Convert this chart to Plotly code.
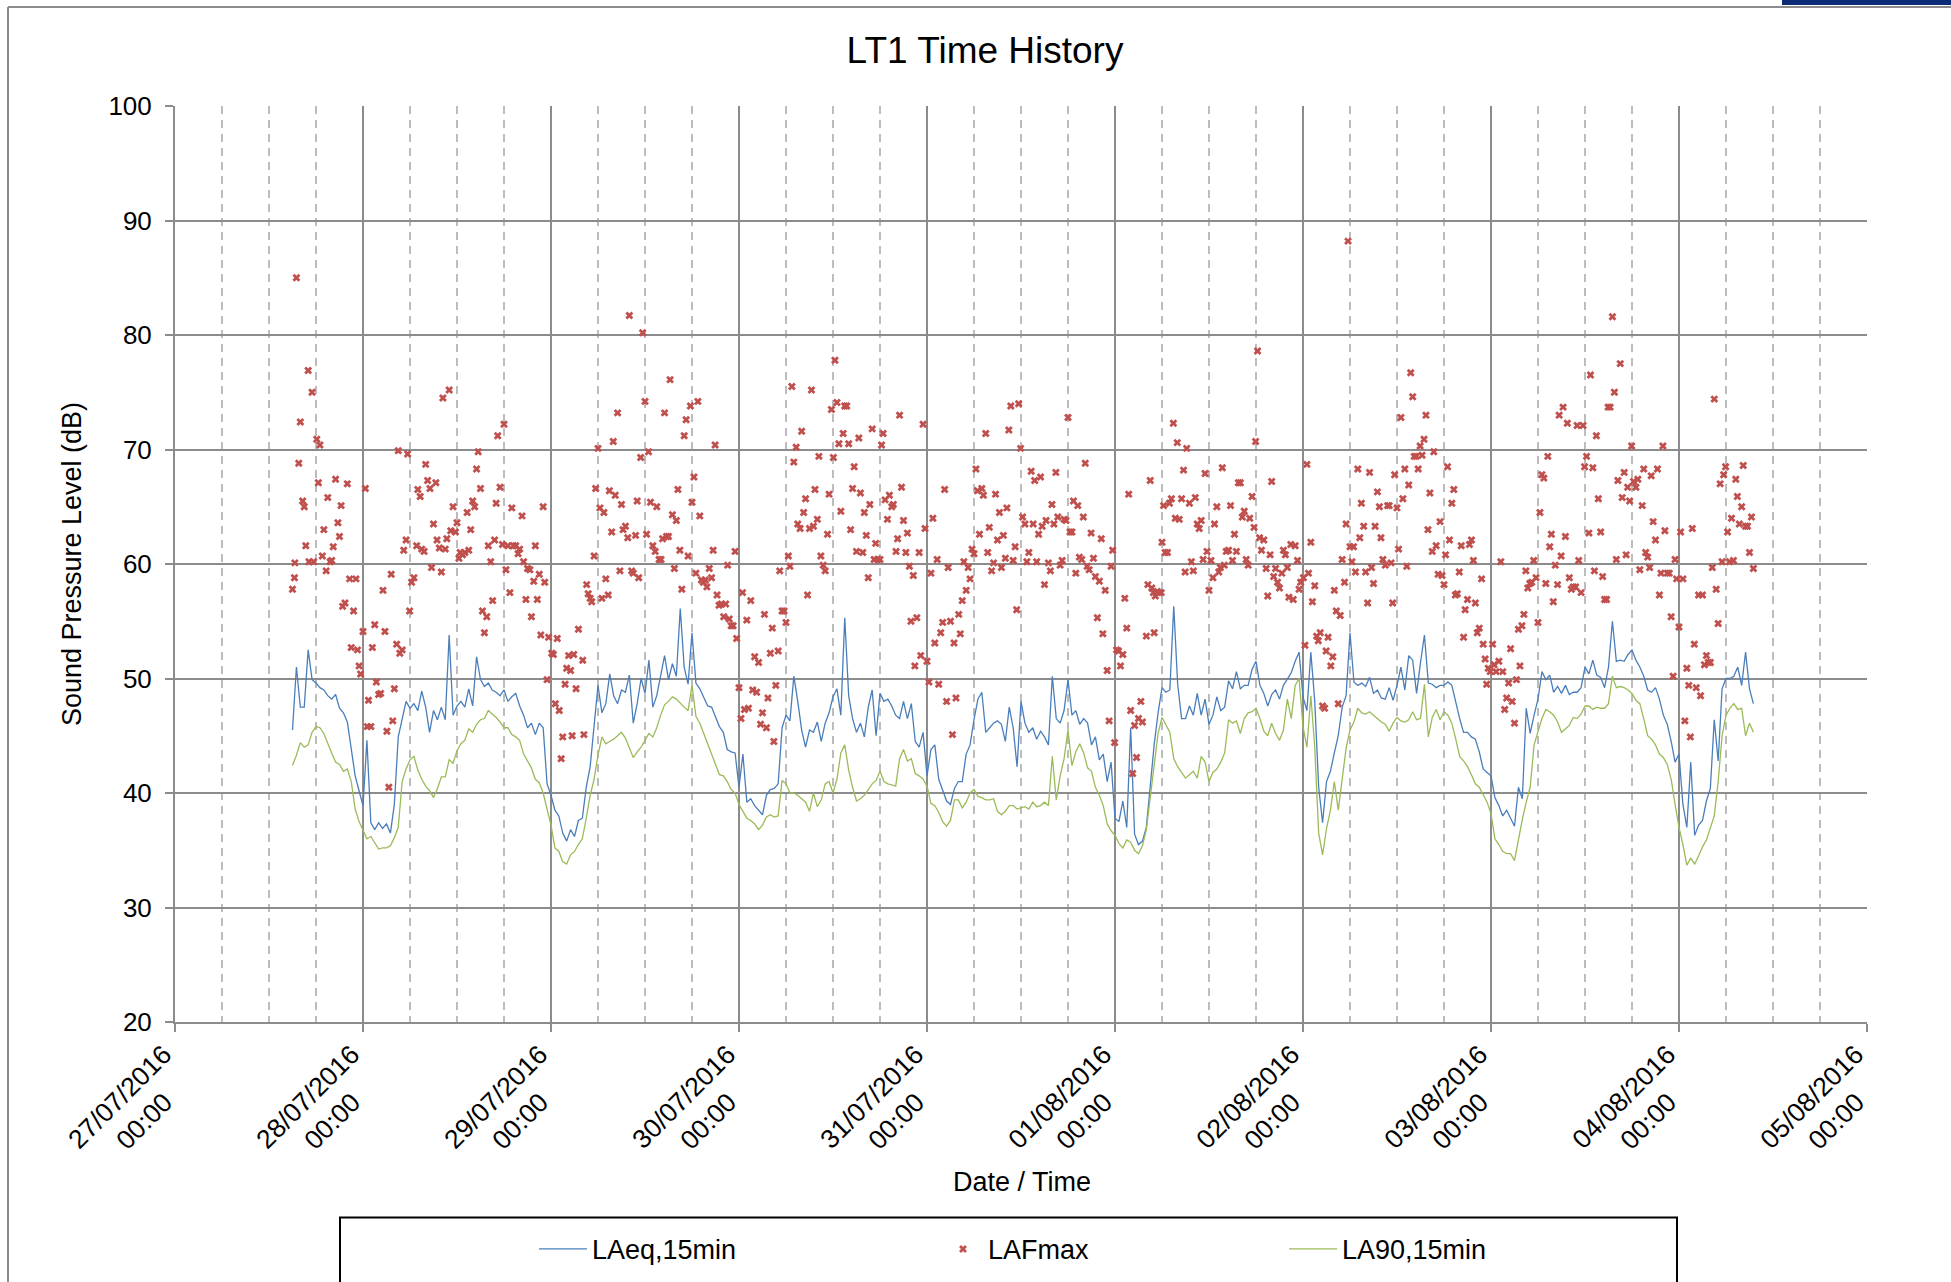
import numpy as np
import pandas as pd
import plotly.graph_objects as go

# ---------------- data ----------------
series_start = "2016-07-27 15:00"   # first 30-min sample
step_minutes = 30
day_labels = ["27/07/2016", "28/07/2016", "29/07/2016", "30/07/2016", "31/07/2016",
              "01/08/2016", "02/08/2016", "03/08/2016", "04/08/2016", "05/08/2016"]
time_label = "00:00"

laeq = [
    45.5, 51.0, 47.5, 47.5, 52.5, 49.9, 49.6, 49.2, 49.0, 48.5,
    48.2, 48.6, 47.4, 47.0, 46.2, 44.0, 41.5, 40.2, 38.9, 44.6,
    37.4, 36.8, 37.4, 36.9, 37.3, 36.5, 39.0, 44.9, 46.4, 48.0,
    47.4, 47.8, 47.2, 48.9, 47.5, 45.3, 47.2, 46.4, 47.5, 46.4,
    53.8, 46.8, 47.6, 48.0, 47.5, 49.1, 47.6, 51.9, 49.9, 49.3,
    49.6, 49.0, 48.8, 48.5, 49.0, 48.0, 48.4, 48.7, 47.6, 46.8,
    45.7, 46.1, 45.1, 46.1, 45.7, 40.8, 39.8, 38.5, 38.0, 36.5,
    35.8, 36.8, 36.2, 37.6,
    37.8, 40.5, 42.3, 46.0, 49.4, 47.0,
    47.8, 50.4, 48.5, 47.8, 49.0, 48.8, 50.3, 46.1, 47.8, 50.0,
    48.7, 51.6, 47.5, 48.5, 50.3, 52.0, 49.9, 51.3, 50.2, 56.1,
    51.0, 49.5, 54.0, 49.6, 49.1, 48.4, 47.6, 47.5, 46.6, 45.8,
    45.3, 43.8, 43.6, 43.5, 40.5, 43.4, 39.2, 39.5, 38.9, 38.5,
    38.1, 39.8, 40.3, 40.4, 40.8, 45.7, 46.8, 46.3, 50.2, 48.0,
    45.5, 44.0, 45.5, 45.3, 46.2, 44.5, 46.1, 47.0, 48.4, 49.1,
    46.8, 55.3, 48.5, 46.5, 45.3, 46.1, 44.9, 47.5, 49.0, 45.0,
    48.7, 48.0, 48.2, 47.6, 46.8, 46.5, 48.0, 46.5, 47.8, 44.5,
    44.0, 45.3, 41.5, 43.8, 44.2, 41.2, 40.2, 39.3, 39.0, 40.4,
    41.0, 41.0, 43.4, 44.2, 46.4, 48.2, 48.8, 45.3, 45.7, 46.1,
    46.3, 46.0, 44.5, 47.5, 45.7, 42.3, 48.0, 46.1, 45.3, 45.7,
    44.7, 45.4, 44.9, 44.2, 50.2, 46.5, 46.1, 47.2, 49.9, 46.8,
    47.2, 46.0, 46.5, 46.1, 44.2, 44.9, 42.9, 43.4, 41.0, 42.7,
    37.8, 37.5, 39.3, 37.0, 45.7, 36.4, 35.5, 35.8, 37.0, 40.5,
    44.2, 47.0, 49.2, 48.8, 49.0, 56.3, 49.5, 46.5, 46.5, 47.6,
    46.8, 48.7, 46.8, 48.2, 46.0, 46.8, 48.4, 47.2, 47.5, 49.8,
    49.1, 50.6, 49.1, 49.4, 49.4, 50.8, 51.5, 49.4, 48.7, 47.6,
    48.6, 49.0, 48.2, 49.4, 49.9, 50.5, 51.5, 52.3, 48.4, 47.2,
    52.3, 48.0, 40.5, 37.4, 41.0, 41.9, 43.5, 45.0, 47.5, 48.5,
    54.0, 49.7, 49.4, 49.6, 49.3, 50.1, 48.7, 49.0, 48.3, 48.2,
    49.2, 48.1, 49.4, 51.0, 49.0, 52.0, 51.6, 48.7, 51.4, 53.8,
    49.6, 49.5, 49.2, 49.4, 49.4, 49.7, 49.4, 47.8, 46.5, 45.3,
    45.3, 44.9, 44.7, 43.6,
    42.1, 41.8, 41.5, 39.6, 38.9, 38.0,
    38.5, 37.8, 37.1, 40.5, 39.5, 47.4, 45.2, 46.8, 48.2, 50.6,
    49.9, 50.3, 48.8, 49.3, 48.7, 49.4, 48.6, 48.8, 48.8, 49.2,
    51.0, 50.4, 51.6, 50.3, 50.1, 49.2, 51.0, 55.0, 51.5, 51.6,
    51.5, 52.1, 52.5, 51.6, 51.0, 50.2, 49.0, 48.8, 49.2, 48.2,
    46.8, 46.0, 44.5, 42.7, 43.4, 39.0, 37.0, 42.7, 36.3, 37.2,
    37.6, 39.3, 40.4, 46.4, 42.8, 49.1, 50.0, 50.0, 50.2, 51.0,
    49.4, 52.3, 49.1, 47.8,
]

la90 = [
    42.4, 43.3, 44.4, 44.0, 44.2, 45.3, 45.8, 45.7, 45.2, 44.3,
    43.5, 42.7, 42.5, 41.9, 42.1, 41.0, 38.6, 37.5, 36.8, 36.0,
    36.2, 35.6, 35.1, 35.2, 35.2, 35.4, 36.1, 37.0, 41.0, 42.1,
    42.9, 43.2, 42.0, 41.2, 40.6, 40.2, 39.6, 40.4, 41.4, 41.4,
    42.9, 42.6, 43.7, 44.3, 44.6, 45.6, 45.3, 46.0, 46.4, 46.5,
    47.2, 46.9, 46.6, 46.2, 45.7, 45.7, 45.1, 44.9, 44.6, 43.4,
    42.8, 42.2, 41.2, 40.9, 40.0, 38.6, 37.2, 35.2, 34.9, 34.0,
    33.8, 34.6, 34.9, 35.5,
    36.0, 37.8, 39.8, 41.2, 43.3, 44.9,
    44.3, 44.5, 44.7, 45.0, 45.3, 44.8, 44.0, 43.1, 43.6, 44.0,
    44.6, 45.2, 44.9, 45.7, 46.8, 47.7, 48.0, 48.4, 48.2, 47.8,
    47.5, 47.2, 49.4, 46.7, 46.1, 45.2, 44.3, 43.4, 42.6, 41.6,
    41.5, 41.0, 40.3, 40.0, 39.0, 38.4, 37.8, 37.6, 37.3, 36.8,
    37.2, 37.9, 38.1, 37.9, 38.0, 41.1, 40.8, 40.0, 40.0, 39.8,
    39.5, 39.2, 38.4, 40.0, 38.8, 39.4, 40.8, 41.0, 40.0, 41.2,
    43.5, 44.2, 42.0, 40.5, 39.3, 39.5, 39.8, 40.3, 40.8, 41.1,
    41.9, 41.0, 40.8, 40.7, 40.6, 43.0, 43.8, 42.8, 43.0, 41.7,
    41.5, 41.2, 40.6, 39.1, 38.9, 38.3, 37.5, 37.1, 37.6, 39.4,
    39.4, 38.7, 39.2, 40.0, 40.3, 39.7, 39.6, 39.4, 39.4, 39.5,
    38.4, 38.1, 38.4, 38.9, 38.9, 38.6, 38.7, 38.8, 38.6, 39.2,
    38.8, 38.9, 39.2, 38.9, 43.2, 39.4, 41.5, 43.0, 45.5, 42.4,
    43.6, 44.3, 43.5, 42.2, 41.9, 40.5, 39.8, 38.9, 37.3, 36.7,
    36.3, 35.6, 35.2, 35.9, 35.7, 35.0, 34.7, 35.4, 36.8, 39.5,
    42.5, 45.2, 46.6, 46.0, 45.3, 43.0, 42.3, 41.8, 41.3, 41.6,
    41.9, 41.3, 43.2, 42.7, 41.0, 41.8, 42.1, 42.7, 43.5, 46.4,
    46.1, 46.3, 45.2, 46.5, 47.0, 47.1, 47.4, 46.5, 45.4, 45.0,
    46.1, 45.2, 44.6, 45.5, 48.2, 46.5, 49.4, 50.0, 45.8, 44.0,
    48.5, 44.0, 36.5, 34.6, 36.9, 38.5, 41.0, 38.5, 41.3, 43.9,
    45.5, 46.2, 47.4, 47.0, 46.9, 47.1, 46.8, 46.5, 46.2, 46.0,
    45.4, 46.1, 46.6, 46.3, 46.2, 46.4, 47.1, 46.4, 46.5, 49.5,
    44.9, 46.6, 47.3, 46.4, 47.1, 46.8, 46.1, 44.7, 43.2, 42.8,
    42.3, 41.6, 40.8, 40.5,
    39.8, 39.2, 38.2, 36.0, 35.5, 34.9,
    34.7, 34.7, 34.1, 36.0, 37.7, 39.2, 40.5, 44.2, 45.4, 46.5,
    47.3, 47.1, 46.8, 46.2, 45.3, 45.6, 45.9, 46.6, 46.5, 46.9,
    47.6, 47.6, 47.3, 47.5, 47.4, 47.4, 47.8, 50.2, 49.2, 49.3,
    49.2, 49.0, 48.7, 48.1, 47.8, 46.5, 45.0, 44.7, 44.2, 43.4,
    43.1, 42.5, 41.2, 39.0, 37.0, 35.5, 33.7, 34.3, 33.8, 34.5,
    35.3, 35.9, 37.0, 38.0, 41.0, 45.0, 46.8, 47.4, 47.8, 47.3,
    47.4, 45.0, 46.1, 45.3,
]

# LAFmax: hours after 27/07/2016 00:00, and level in dB
lafmax_hours = [
    15.5, 17.0, 17.5, 16.0, 18.1, 18.5, 15.8, 16.3, 16.5, 18.3, 20.5, 22.0, 19.5, 21.2, 19.0,
    20.8, 21.0, 16.7, 20.2, 18.8, 17.1, 17.7, 19.8, 20.0, 15.3, 19.3, 15.25, 15.0, 22.3, 23.1,
    21.4, 21.7, 22.8, 24.3, 24.0, 25.5, 22.5, 23.3, 25.2, 23.5, 23.7, 25.7, 24.7, 26.0, 26.25,
    24.55, 25.0, 26.55, 26.8, 27.6, 28.0, 27.8, 27.05, 28.3, 28.7, 29.0, 27.3, 28.5, 29.7, 29.5,
    29.2, 29.95, 30.2, 30.5, 30.85, 31.3, 31.0, 31.5, 31.8, 32.0, 32.25, 32.55, 33.3, 33.0, 32.75,
    33.45, 33.75, 34.0, 34.5, 34.7, 34.2, 35.0, 35.2, 35.5, 35.8, 36.0, 36.25, 36.4, 36.7, 37.0,
    37.3, 37.5, 37.75, 38.0, 38.25, 38.5, 38.7, 39.0, 39.25, 39.5, 39.8, 40.0, 40.3, 40.55, 40.8,
    41.0, 41.2, 41.5, 41.8, 42.0, 42.25, 42.5, 42.75, 43.0, 43.2, 43.5, 43.8, 44.0, 44.3, 44.5,
    44.8, 45.0, 45.3, 45.5, 45.8, 46.0, 46.25, 46.5, 46.7, 47.0, 47.2, 47.5, 47.7, 48.1, 48.3,
    48.55, 48.8, 49.05, 49.3, 49.5, 49.8, 50.0, 50.25, 50.5, 50.7, 50.9, 51.2, 51.5,
    52.05, 52.2, 52.55, 52.75, 53.0, 53.2, 53.5, 53.7, 54.0, 54.25, 54.75, 54.5, 55.0, 55.3, 55.45,
    55.75, 55.95, 56.2, 56.5, 56.8, 57.0, 57.2, 57.5, 57.8, 58.0, 58.3, 58.5, 58.8, 59.0, 59.2,
    59.45, 59.7, 60.0, 60.2, 60.45, 60.7, 61.0, 61.3, 61.5, 61.8, 62.05, 62.25, 62.5, 62.75, 63.0,
    63.2, 63.5, 63.75, 64.0, 64.2, 64.45, 64.7, 65.0, 65.25, 65.5, 65.8, 66.0, 66.25, 66.5, 66.75,
    67.0, 67.2, 67.45, 67.7, 67.9, 68.2, 68.5, 68.7, 68.95, 69.2, 69.45, 69.75, 70.05, 70.3, 70.55,
    70.75, 71.0, 71.25, 71.5, 71.7, 72.0, 72.25, 72.45, 72.7, 73.0, 73.2, 73.5, 73.75, 74.0, 74.25,
    74.5, 74.75, 75.0, 75.25, 75.5, 75.7, 76.0, 76.25, 76.45, 76.7, 77.0, 77.2, 77.5, 77.75, 78.0,
    78.3, 78.5, 78.75, 79.0, 79.3, 79.5, 79.8, 80.0, 80.25, 80.5, 80.75, 81.0, 81.25, 81.5, 81.7,
    82.0, 82.2, 82.45, 82.75, 83.0, 83.3, 83.5, 83.8, 84.05, 84.25, 84.5, 84.75, 85.0, 85.3, 85.5,
    85.75, 86.0, 86.25, 86.5, 86.7, 87.0, 87.3, 87.5, 87.8, 88.0, 88.25, 88.5, 88.7, 89.0, 89.25,
    89.45, 89.7, 90.0,
    90.2, 90.4, 90.65, 90.95, 91.2, 91.5, 91.7, 92.05, 92.25, 92.5, 92.75, 93.0, 93.3, 93.5, 93.75,
    93.95, 94.25, 94.45, 94.7, 95.0, 95.2, 95.5, 95.75, 96.0, 96.25, 96.5, 96.75, 97.0, 97.3, 97.5,
    97.75, 98.0, 98.25, 98.5, 98.7, 99.0, 99.25, 99.45, 99.7, 100.05, 100.25, 100.5, 100.7, 101.0, 101.25,
    101.5, 101.75, 102.0, 102.25, 102.45, 102.7, 103.0, 103.2, 103.5, 103.75, 103.95, 104.25, 104.5, 104.75, 105.0,
    105.25, 105.5, 105.75, 106.0, 106.2, 106.45, 106.7, 107.0, 107.25, 107.45, 107.7, 107.95, 108.2, 108.5, 108.75,
    109.0, 109.3, 109.55, 109.75, 110.0, 110.25, 110.5, 110.7, 111.0, 111.2, 111.5, 111.75, 111.95, 112.2, 112.45,
    112.7, 113.0, 113.25, 113.5, 113.75, 114.0, 114.25, 114.5, 114.7, 115.0, 115.25, 115.45, 115.75, 115.95, 116.2,
    116.45, 116.7, 116.95, 117.25, 117.5, 117.75, 118.0, 118.25, 118.45, 118.75, 119.0, 119.25, 119.5, 119.7, 119.95,
    120.2, 120.45, 120.7, 121.0, 121.25, 121.5, 121.75, 122.0, 122.25, 122.5, 122.75, 123.0, 123.3, 123.5, 124.0,
    124.2, 124.5, 124.7, 124.9, 125.0, 125.15, 125.4, 125.65, 125.9, 126.0, 126.2, 126.4, 126.7, 126.95, 127.2,
    127.45, 127.7, 127.95, 128.2, 128.5,
    128.75, 129.15, 128.95, 129.5, 129.75, 130.0, 130.25, 130.5, 130.75, 131.0, 131.25, 131.5, 131.75, 132.0, 132.25,
    132.5, 132.7, 133.0, 133.25, 133.45, 133.7, 133.95, 134.2, 134.5, 134.75, 135.0, 135.25, 135.5, 135.75, 136.0,
    136.25, 136.5, 136.75, 137.0, 137.2, 137.5, 137.75, 137.95, 138.2, 138.45, 138.7, 139.0, 139.3, 139.5, 139.8,
    140.0, 140.25, 140.5, 140.75, 141.0, 141.3, 141.5, 141.75, 142.0, 142.2, 142.45, 142.75, 143.0, 143.3, 143.5,
    143.7, 144.05, 144.25, 144.5, 144.7, 145.0, 145.2, 145.5, 145.75, 145.95, 146.2, 146.5, 146.75, 146.95, 147.2,
    147.55, 147.8, 148.0, 148.25, 148.5, 148.75, 149.0, 149.3, 149.5, 149.75, 150.0, 150.25, 150.45, 150.7, 151.0,
    151.25, 151.45, 151.75, 152.0, 152.25, 152.5, 152.75, 153.0, 153.2, 153.5, 153.75, 153.95, 154.2, 154.5, 154.8,
    155.0, 155.25, 155.45, 155.7, 156.0, 156.2, 156.5, 156.75, 157.0, 157.25, 157.5, 157.75, 158.0, 158.2, 158.45,
    158.7, 158.95, 159.2, 159.45, 159.7, 159.95, 160.2, 160.5, 160.7, 161.0, 161.25, 161.5, 161.75, 162.0, 162.2,
    162.45, 162.7, 163.0, 163.25, 163.45, 163.7, 163.95, 164.2, 164.5, 164.7, 165.0, 165.25, 165.5, 165.75, 166.0,
    166.25, 166.5,
    166.8, 167.0, 167.25, 167.45, 167.65, 167.9, 168.2, 168.4, 168.65, 169.0, 169.25, 169.5, 169.75, 170.0, 170.25,
    170.5, 170.7, 171.0, 171.25, 171.5, 171.7, 171.95, 172.2, 172.45, 172.7, 172.95, 173.2, 173.45, 173.75, 174.0,
    174.25, 174.5, 174.75, 175.0, 175.25, 175.5, 175.7, 175.95, 176.2, 176.5, 176.7, 176.95, 177.2, 177.5, 177.75,
    178.0, 178.25, 178.5, 178.8, 179.0, 179.2, 179.5, 179.75, 179.95, 180.2, 180.5, 180.7, 181.0, 181.2, 181.45,
    181.7, 182.0, 182.25, 182.5, 182.75, 182.95, 183.2, 183.5, 183.75, 184.0, 184.2, 184.5, 184.75, 185.0, 185.25,
    185.45, 185.7, 185.95, 186.2, 186.5, 186.75, 187.0, 187.3, 187.5, 187.75, 188.0, 188.25, 188.45, 188.7, 189.0,
    189.25, 189.5, 189.7, 189.95, 190.2, 190.5, 190.75, 191.0, 191.25, 191.5, 191.7, 192.0, 192.2, 192.5, 192.75,
    193.0, 193.25, 193.45, 193.7, 193.95, 194.2, 194.5, 194.75, 195.0, 195.25, 195.5, 195.75, 196.0, 196.25, 196.5,
    196.75, 197.0, 197.25, 197.5, 197.7, 197.95, 198.2, 198.45, 198.7, 198.95, 199.25, 199.45, 199.7, 200.0, 200.2,
    200.5, 200.75, 201.0, 201.25, 201.5,
]

lafmax_db = [
    85.0, 76.9, 75.0, 72.4, 70.9, 70.4, 68.8, 65.5, 65.0, 67.1, 67.4, 67.0, 65.8, 65.1, 63.0,
    63.6, 62.4, 61.6, 61.5, 60.7, 60.2, 60.2, 60.2, 60.3, 60.1, 59.4, 58.8, 57.8, 58.7, 58.7,
    56.3, 56.6, 55.9, 66.6, 54.1, 54.7, 52.7, 52.5, 52.7, 51.1, 50.4, 49.7, 48.1, 48.6, 48.7,
    45.8, 45.8, 57.7, 54.1, 59.1, 49.1, 46.3, 45.4, 53.0, 52.2, 52.5, 40.5, 69.9, 69.6, 62.1,
    61.2, 55.9, 58.4, 58.8, 61.6, 65.9, 66.5, 61.3, 61.1, 68.7, 67.3, 66.6, 67.1, 63.5, 59.7,
    62.1, 61.4, 59.3, 61.3, 62.2, 74.5, 75.2, 62.9, 65.0, 62.8, 63.6, 60.5, 61.0, 60.8, 61.0,
    64.5, 61.2, 63.0, 65.5, 65.0, 68.3, 69.8, 66.6, 55.9, 54.0, 55.4, 61.6, 60.2, 56.8, 62.1,
    65.3, 71.2, 66.7, 61.7, 72.2, 59.5, 61.6, 57.5, 64.9, 61.6, 61.6, 60.9, 61.3, 64.2, 60.2,
    56.9, 59.6, 59.5, 55.4, 58.5, 61.6, 56.9, 59.1, 53.8, 65.0, 58.4, 49.9, 53.6, 52.2, 52.1,
    47.8, 53.5, 47.2, 43.0, 44.9, 49.5, 50.9, 52.0, 50.7, 45.0, 52.1, 49.1, 54.3,
    51.6, 45.1, 58.2, 57.4, 57.0, 56.7, 60.7, 66.6, 70.1, 64.9, 64.5, 57.0, 58.7, 57.3, 66.4,
    62.8, 70.7, 66.0, 73.2, 59.4, 65.2, 63.0, 63.3, 62.3, 81.7, 59.4, 59.2, 62.5, 65.5, 58.8,
    69.3, 80.2, 74.2, 62.6, 69.8, 65.4, 61.6, 61.1, 65.0, 60.4, 60.4, 62.2, 73.2, 62.4, 62.4,
    76.1, 64.3, 59.6, 63.8, 66.5, 61.2, 57.8, 71.2, 72.6, 60.7, 73.8, 65.4, 67.6, 59.2, 74.2,
    64.2, 58.6, 58.4, 58.6, 58.0, 59.6, 58.8, 61.2, 70.4, 57.3, 56.4, 56.5, 55.4, 56.5, 59.9,
    55.2, 54.6, 54.6, 61.1, 53.5, 49.2, 46.5, 57.5, 47.3, 55.1, 47.4, 56.8, 49.0, 51.9, 48.8,
    51.4, 46.0, 47.0, 55.6, 45.7, 48.3, 52.2, 54.4, 44.5, 49.4, 52.4, 59.4, 55.9, 55.9, 54.9,
    60.7, 59.8, 75.5, 68.9, 70.2, 63.5, 63.1, 71.6, 64.5, 65.7, 57.3, 63.1, 75.2, 63.3, 66.5,
    63.9, 69.4, 60.7, 59.9, 59.4, 62.6, 66.1, 73.5, 69.3, 77.8, 74.1, 70.5, 64.6, 71.4, 73.8,
    73.8, 70.5, 63.0, 66.6, 68.5, 61.1, 71.0, 66.2, 61.0, 64.5, 62.5, 58.8, 65.2, 71.8, 60.4,
    61.8, 60.4, 60.4,
    70.4, 71.4, 65.6, 63.9, 66.0, 65.0, 65.2, 61.1, 62.2, 73.0, 66.7, 63.8, 61.0, 62.7, 59.8,
    55.0, 59.0, 51.1, 55.3, 61.0, 52.0, 72.2, 63.1, 51.5, 49.7, 59.2, 64.0, 53.1, 60.4, 49.5,
    54.0, 54.9, 66.5, 48.0, 59.7, 55.0, 45.1, 53.1, 48.3, 55.6, 53.9, 56.8, 60.2, 57.7, 59.7,
    58.7, 61.3, 60.9, 68.3, 66.4, 62.6, 66.6, 66.0, 71.4, 61.0, 63.2, 59.4, 60.1, 66.1, 62.1,
    64.5, 59.7, 62.5, 60.5, 64.9, 71.7, 73.8, 60.3, 61.5, 56.0, 74.0, 70.1, 64.1, 63.5, 60.2,
    61.0, 68.1, 63.5, 67.3, 60.2, 62.6, 67.6, 63.3, 58.2, 63.8, 60.1, 59.4, 65.2, 63.5, 68.0,
    64.1, 59.9, 60.3, 63.9, 63.8, 72.8, 62.8, 62.8, 65.5, 59.2, 65.1, 60.6, 60.4, 64.1, 68.8,
    59.8, 59.5, 62.7, 60.5, 58.9, 55.3, 58.5, 62.2, 53.9, 57.7, 50.7, 46.3, 59.8, 61.2, 44.4,
    52.5, 52.4, 51.1, 52.1, 57.0, 54.4, 66.1, 47.2, 41.7, 45.9, 43.1, 46.5, 48.0, 46.2, 53.7,
    58.2, 67.3, 57.9, 57.5, 54.0, 57.2, 57.6, 57.5, 57.5, 61.9, 65.1, 61.0, 61.0, 65.3, 65.7,
    72.3, 64.0, 70.6, 63.9, 65.7,
    68.2, 70.1, 59.3, 65.3, 60.2, 59.4, 65.8, 63.5, 63.1, 63.8, 60.4, 67.9, 61.1, 57.7, 60.3,
    58.8, 63.5, 65.0, 59.3, 59.7, 68.4, 59.9, 61.1, 61.2, 65.1, 60.3, 62.6, 61.1, 67.1, 67.1,
    64.1, 64.6, 60.4, 59.9, 64.0, 65.9, 63.2, 70.7, 78.6, 62.3, 61.2, 62.1, 59.6, 57.2, 60.8,
    67.2, 58.9, 59.6, 58.4, 57.9, 59.2, 61.2, 60.8, 59.7, 57.1, 61.7, 56.9, 61.6, 60.3, 57.8,
    58.4, 58.8, 52.9, 68.7, 59.2, 61.9, 56.7, 58.1, 53.7, 53.3, 54.0, 47.6, 47.4, 52.4, 53.6,
    51.1, 51.9, 57.7, 55.9, 47.8, 55.5, 60.4, 58.4, 63.5, 88.2, 61.5, 60.2, 61.5, 59.3, 68.3,
    62.3, 65.3, 63.3, 59.3, 56.6, 68.0, 59.7, 58.3, 63.3, 66.3, 65.0, 62.3, 60.4, 59.9, 65.1,
    65.1, 60.1, 56.6, 67.8, 64.9, 61.3, 72.8, 65.7, 68.3, 59.8, 66.9, 76.7, 74.6, 69.4, 69.4,
    68.3, 70.3, 69.5, 70.9, 73.0, 63.0, 66.2, 61.1, 69.8, 61.6, 59.1, 63.7, 59.0, 58.2, 60.8,
    68.5, 62.1, 65.3, 66.5, 57.3, 57.4, 59.3, 61.6, 53.6, 56.0, 56.9, 61.7, 62.1, 60.3, 56.6,
    54.0, 54.4,
    58.7, 53.0, 51.7, 49.5, 50.9, 50.6, 53.0, 51.2, 50.6, 51.5, 60.2, 50.6, 47.3, 48.3, 49.6,
    52.6, 48.0, 46.1, 49.9, 54.3, 51.1, 54.6, 55.6, 59.4, 57.9, 58.3, 58.4, 60.3, 58.8, 54.9,
    64.5, 67.8, 67.5, 58.3, 69.4, 61.5, 62.6, 56.7, 59.9, 58.2, 73.0, 60.7, 73.7, 62.4, 72.3,
    58.8, 57.8, 58.0, 58.0, 72.1, 60.3, 57.5, 72.1, 68.5, 69.4, 62.7, 76.5, 68.4, 59.4, 71.2,
    65.7, 62.8, 58.9, 56.9, 56.9, 73.7, 73.7, 81.6, 75.0, 60.4, 67.3, 77.5, 65.8, 68.0, 60.8,
    66.7, 65.5, 70.3, 67.2, 66.7, 67.4, 59.5, 65.1, 68.3, 61.0, 60.6, 59.7, 67.7, 63.7, 62.1,
    68.3, 57.3, 59.2, 70.3, 62.9, 59.2, 59.2, 55.4, 50.2, 60.4, 58.7, 54.5, 62.8, 58.7, 46.3,
    50.9, 49.4, 44.9, 63.1, 53.0, 49.2, 57.3, 48.5, 57.3, 51.2, 52.0, 51.4, 51.4, 59.7, 74.4,
    57.8, 54.8, 67.0, 60.2, 67.8, 68.5, 62.8, 60.2, 64.0, 60.3, 67.4, 65.9, 63.5, 65.0, 68.6,
    63.3, 63.3, 61.0, 64.1, 59.6,
]

# ---------------- build ----------------
t_line = pd.Timestamp(series_start) + pd.to_timedelta(np.arange(len(laeq)) * step_minutes, unit="min")
base = pd.Timestamp("2016-07-27 00:00")
t_max = base + pd.to_timedelta(np.array(lafmax_hours), unit="h")
tick_vals = [pd.Timestamp(f"{d[6:10]}-{d[3:5]}-{d[0:2]}") for d in day_labels]

FONT = "Liberation Sans, Arial, sans-serif"
GRID = "#8c8c8c"
GRID_MINOR = "#bcbcbc"

fig = go.Figure()
fig.add_trace(go.Scatter(x=t_line, y=laeq, mode="lines", name="LAeq,15min",
                         line=dict(color="#4A7EBB", width=1.3), legend="legend"))
fig.add_trace(go.Scatter(x=t_max, y=lafmax_db, mode="markers", name="LAFmax",
                         marker=dict(symbol="x", size=7, color="#C0504D", line=dict(width=0)),
                         legend="legend2"))
fig.add_trace(go.Scatter(x=t_line, y=la90, mode="lines", name="LA90,15min",
                         line=dict(color="#9BBB59", width=1.3), legend="legend3"))

W, H = 1951, 1282
L, R, T, B = 175, 1867, 106, 1022.5
pw, ph = R - L, B - T


def px(xp):
    return (xp - L) / pw


def py(yp):
    return (B - yp) / ph


legend_common = dict(orientation="h", bgcolor="rgba(0,0,0,0)", borderwidth=0,
                     font=dict(family=FONT, size=27, color="black"),
                     yanchor="middle", xanchor="left", y=py(1250))

fig.update_layout(
    width=W, height=H, autosize=False,
    margin=dict(l=L, r=W - R, t=T, b=H - B, pad=0, autoexpand=False),
    paper_bgcolor="white", plot_bgcolor="white",
    font=dict(family=FONT, size=26, color="black"),
    title=dict(text="LT1 Time History", x=985 / W, xref="container", xanchor="center",
               y=1 - 50 / H, yref="container", yanchor="middle",
               font=dict(family=FONT, size=37, color="black")),
    legend=dict(**legend_common, x=px(534), itemwidth=48),
    legend2=dict(**legend_common, x=px(938), itemwidth=40),
    legend3=dict(**legend_common, x=px(1284), itemwidth=48),
    showlegend=True,
)

fig.update_xaxes(
    type="date", range=[tick_vals[0], tick_vals[-1]],
    tickmode="array", tickvals=tick_vals, showticklabels=False,
    showgrid=True, gridcolor=GRID, gridwidth=2,
    minor=dict(tickmode="linear", tick0="2016-07-27", dtick=6 * 3600 * 1000,
               showgrid=True, gridcolor=GRID_MINOR, gridwidth=2, griddash="8px,6px"),
    ticks="outside", ticklen=8, tickwidth=2, tickcolor=GRID,
    showline=True, linecolor=GRID, linewidth=2,
    zeroline=False, automargin=False,
)
fig.update_yaxes(
    range=[20, 100], tickmode="linear", tick0=20, dtick=10,
    tickfont=dict(family=FONT, size=26, color="black"),
    showgrid=True, gridcolor=GRID, gridwidth=2,
    ticks="outside", ticklen=8, tickwidth=2, tickcolor=GRID,
    showline=True, linecolor=GRID, linewidth=2,
    zeroline=False, automargin=False, ticklabelstandoff=8,
    title=dict(text="Sound Pressure Level (dB)", standoff=19,
               font=dict(family=FONT, size=27, color="black")),
)

# rotated, centred two-line date tick labels (one per day tick)
for tv, d in zip(tick_vals, day_labels):
    fig.add_annotation(x=tv, xref="x", y=py(1110), yref="paper", xshift=-43,
                       text=f"{d}<br>{time_label}", showarrow=False, textangle=-45,
                       xanchor="center", yanchor="middle", align="center",
                       font=dict(family=FONT, size=26.5, color="black"))

# x axis title
fig.add_annotation(x=px(1022), xref="paper", y=py(1183), yref="paper", text="Date / Time",
                   showarrow=False, xanchor="center", yanchor="middle",
                   font=dict(family=FONT, size=27, color="black"))

# page frame, legend frame and corner logo strip (decoration)
fig.add_shape(type="line", xref="paper", yref="paper", x0=px(8), x1=px(8), y0=py(7), y1=py(1290),
              line=dict(color="#8c8c8c", width=2), layer="above")
fig.add_shape(type="line", xref="paper", yref="paper", x0=px(8), x1=px(1951), y0=py(7), y1=py(7),
              line=dict(color="#8c8c8c", width=2), layer="above")
fig.add_shape(type="rect", xref="paper", yref="paper", x0=px(340), x1=px(1677), y0=py(1218), y1=py(1292),
              line=dict(color="black", width=2), fillcolor="rgba(0,0,0,0)", layer="above")
fig.add_shape(type="rect", xref="paper", yref="paper", x0=px(1782), x1=px(1951), y0=py(5), y1=py(0),
              line=dict(width=0), fillcolor="#0b2a78", layer="above")

fig.write_html("out.html", config={"displayModeBar": False},
               post_script="document.body.style.margin='0px';")
